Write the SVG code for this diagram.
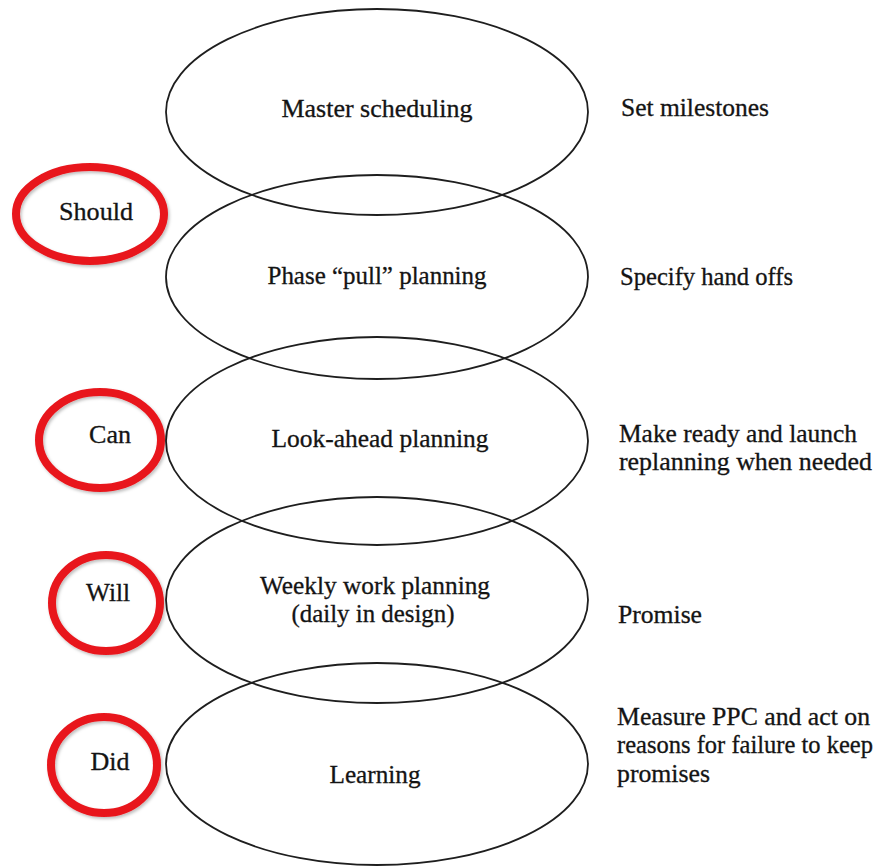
<svg xmlns="http://www.w3.org/2000/svg" width="875" height="867" viewBox="0 0 875 867">
  <defs>
    <filter id="shadow" x="-20%" y="-20%" width="140%" height="140%">
      <feDropShadow dx="1.5" dy="2" stdDeviation="1.5" flood-color="#000" flood-opacity="0.25"/>
    </filter>
  </defs>
  <style>
    .stage { fill: none; stroke: #1e1e1e; stroke-width: 1.8; }
    .mark { fill: none; stroke: #e8141b; stroke-width: 8; filter: url(#shadow); }
    text { font-family: "Liberation Serif", "Times New Roman", serif; font-size: 24.5px; fill: #141414; stroke: #141414; stroke-width: 0.3; }
    .c { text-anchor: middle; }
  </style>
  <rect width="875" height="867" fill="#fff"/>

  <!-- planning stages (overlapping ellipses) -->
  <g id="master-scheduling">
    <ellipse class="stage" cx="377" cy="112" rx="211" ry="103"/>
    <text class="c" x="377" y="117" textLength="191" lengthAdjust="spacingAndGlyphs">Master scheduling</text>
  </g>
  <g id="phase-pull-planning">
    <ellipse class="stage" cx="377" cy="277" rx="211" ry="102"/>
    <text class="c" x="377" y="284" textLength="219" lengthAdjust="spacingAndGlyphs">Phase “pull” planning</text>
  </g>
  <g id="look-ahead-planning">
    <ellipse class="stage" cx="377" cy="441" rx="211" ry="104"/>
    <text class="c" x="380" y="447" textLength="217" lengthAdjust="spacingAndGlyphs">Look-ahead planning</text>
  </g>
  <g id="weekly-work-planning">
    <ellipse class="stage" cx="377" cy="600" rx="211" ry="103"/>
    <text class="c" x="375" y="594" textLength="230" lengthAdjust="spacingAndGlyphs">Weekly work planning</text>
    <text class="c" x="373" y="622" textLength="163" lengthAdjust="spacingAndGlyphs">(daily in design)</text>
  </g>
  <g id="learning">
    <ellipse class="stage" cx="377" cy="764" rx="211" ry="101"/>
    <text class="c" x="375" y="783" textLength="91" lengthAdjust="spacingAndGlyphs">Learning</text>
  </g>

  <!-- commitment levels -->
  <g id="should">
    <ellipse class="mark" cx="90" cy="214" rx="74" ry="47"/>
    <text class="c" x="96" y="220" textLength="74" lengthAdjust="spacingAndGlyphs">Should</text>
  </g>
  <g id="can">
    <ellipse class="mark" cx="100" cy="440" rx="61" ry="48"/>
    <text class="c" x="110" y="443" textLength="42" lengthAdjust="spacingAndGlyphs">Can</text>
  </g>
  <g id="will">
    <ellipse class="mark" cx="106" cy="603" rx="54" ry="48"/>
    <text class="c" x="108" y="601" textLength="44" lengthAdjust="spacingAndGlyphs">Will</text>
  </g>
  <g id="did">
    <ellipse class="mark" cx="104" cy="765" rx="53" ry="48"/>
    <text class="c" x="110" y="770" textLength="39" lengthAdjust="spacingAndGlyphs">Did</text>
  </g>

  <!-- outcomes of each stage -->
  <g id="set-milestones">
    <text x="621" y="116" textLength="148" lengthAdjust="spacingAndGlyphs">Set milestones</text>
  </g>
  <g id="specify-hand-offs">
    <text x="620" y="285" textLength="173" lengthAdjust="spacingAndGlyphs">Specify hand offs</text>
  </g>
  <g id="make-ready">
    <text x="619" y="442" textLength="238" lengthAdjust="spacingAndGlyphs">Make ready and launch</text>
    <text x="619" y="470" textLength="253" lengthAdjust="spacingAndGlyphs">replanning when needed</text>
  </g>
  <g id="promise">
    <text x="618" y="623" textLength="84" lengthAdjust="spacingAndGlyphs">Promise</text>
  </g>
  <g id="measure-ppc">
    <text x="617" y="725" textLength="253" lengthAdjust="spacingAndGlyphs">Measure PPC and act on</text>
    <text x="617" y="753" textLength="256" lengthAdjust="spacingAndGlyphs">reasons for failure to keep</text>
    <text x="617" y="782" textLength="93" lengthAdjust="spacingAndGlyphs">promises</text>
  </g>

  <!-- no connectors: the stages touch by overlapping -->
  <g id="connectors"/>
</svg>
